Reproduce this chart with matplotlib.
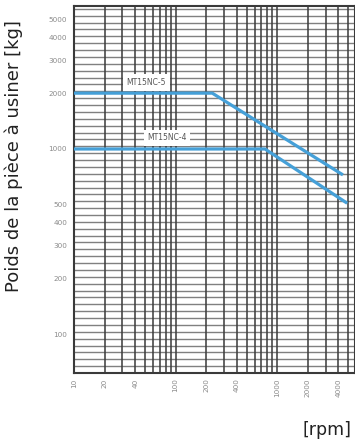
import numpy as np
import matplotlib
matplotlib.use("Agg")
import matplotlib.pyplot as plt
from matplotlib.ticker import FixedLocator, NullLocator, NullFormatter

# Spindle speed [rpm] vs. admissible workpiece weight [kg]
speed_nc5 = [10, 230, 4450]
weight_nc5 = [2000, 2000, 725]
speed_nc4 = [10, 760, 4900]
weight_nc4 = [1000, 1000, 510]

label_nc5 = "MT15NC-5"
label_nc4 = "MT15NC-4"

y_ticks = [100, 200, 300, 400, 500, 1000, 2000, 3000, 4000, 5000]
x_ticks = [10, 20, 40, 100, 200, 400, 1000, 2000, 4000]

W, H = 355, 443
fig = plt.figure(figsize=(W / 100, H / 100), dpi=100)
fig.patch.set_facecolor("white")

ax = fig.add_axes([74 / W, 1 - 373 / H, (W - 74) / W, (373 - 6) / H])
ax.set_xscale("log")
ax.set_yscale("log")
ax.set_xlim(10, 5850)
ax.set_ylim(62, 5900)

grid_col = "#3c3c3c"

# vertical grid: decades and their 2..9 subdivisions
xs = [m * 10 ** d for d in range(1, 4) for m in range(1, 10)]
for x in xs:
    if 10 < x < 5850:
        ax.axvline(x, color=grid_col, lw=1.4, alpha=0.8, zorder=1)

# horizontal grid: dense ruling
for y in 10 ** np.arange(np.log10(62), np.log10(5900), 1 / 27):
    ax.axhline(y, color=grid_col, lw=1.0, alpha=0.65, zorder=1)

blue = "#45a0d8"
ax.plot(speed_nc5, weight_nc5, color=blue, lw=2.3, zorder=3, solid_capstyle="butt")
ax.plot(speed_nc4, weight_nc4, color=blue, lw=2.3, zorder=3, solid_capstyle="butt")

ax.text(33, 2290, label_nc5, fontsize=5.5, color="#555", ha="left", va="center",
        bbox=dict(boxstyle="square,pad=0.5", fc="white", ec="none"), zorder=4)
ax.text(53, 1150, label_nc4, fontsize=5.5, color="#555", ha="left", va="center",
        bbox=dict(boxstyle="square,pad=0.45", fc="white", ec="none"), zorder=4)

ax.yaxis.set_major_locator(FixedLocator(y_ticks))
ax.yaxis.set_minor_locator(NullLocator())
ax.yaxis.set_minor_formatter(NullFormatter())
ax.set_yticklabels([str(v) for v in y_ticks])
ax.xaxis.set_major_locator(FixedLocator(x_ticks))
ax.xaxis.set_minor_locator(NullLocator())
ax.xaxis.set_minor_formatter(NullFormatter())
ax.set_xticklabels([str(v) for v in x_ticks], rotation=90)
ax.tick_params(axis="both", length=0, labelsize=5.2, labelcolor="#8a8a8a")
ax.tick_params(axis="y", pad=5)
ax.tick_params(axis="x", pad=4)

for s in ax.spines.values():
    s.set_color("#3a3a3a")
    s.set_linewidth(1.5)

fig.text(14 / W, 1 - 156 / H, "Poids de la pièce à usiner [kg]", rotation=90,
         ha="center", va="center", fontsize=13, color="#222", family="DejaVu Sans")
fig.text(352 / W, 1 - 430 / H, "[rpm]", ha="right", va="center",
         fontsize=12.5, color="#222", family="DejaVu Sans")

fig.savefig("out.png", dpi=100)
